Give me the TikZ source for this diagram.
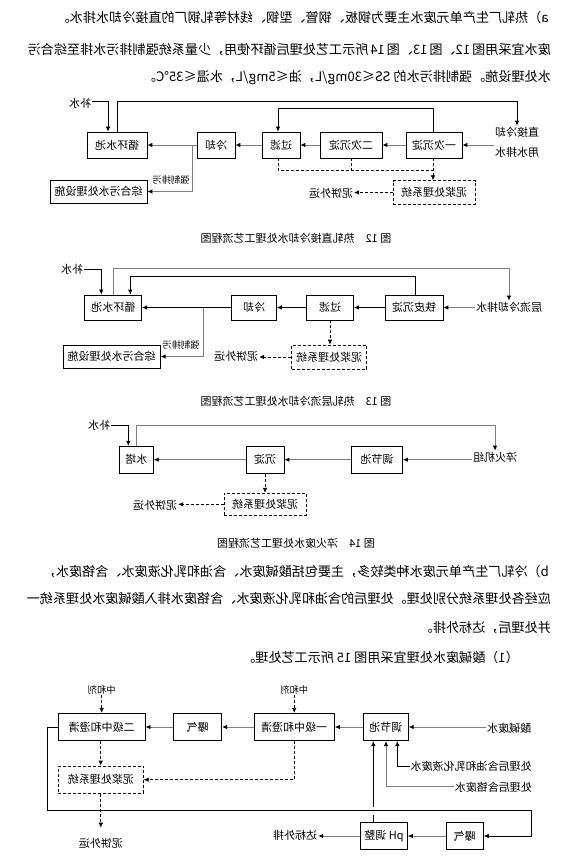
\documentclass[tikz,border=0pt]{standalone}
\usepackage{fontspec}
\setmainfont{Noto Sans CJK SC}
\usepackage{graphicx}
\usetikzlibrary{arrows.meta}

\XeTeXlinebreaklocale "zh"
\XeTeXlinebreakskip=0pt plus 2pt

\newcommand{\mir}[1]{\reflectbox{#1}}
\newcommand{\jmir}[2]{\reflectbox{\makebox[#1][s]{#2}}}

\tikzset{
  box/.style={draw, line width=.8pt, inner sep=1pt, minimum height=26pt,
    font=\fontsize{11}{13}\selectfont},
  dbox/.style={box, dash pattern=on 3pt off 2pt},
  lbl/.style={inner sep=1pt, font=\fontsize{11}{13}\selectfont},
  slbl/.style={inner sep=1pt, font=\fontsize{9.3}{11}\selectfont},
  txt/.style={inner sep=0pt, anchor=east, font=\fontsize{13.1}{15}\selectfont},
  figcap/.style={inner sep=0pt, font=\fontsize{11}{13}\selectfont},
  arr/.style={-{Latex[length=5pt,width=4.5pt,color=black]}},
  gline/.style={draw=gray, line width=.9pt},
  bline/.style={draw=black, line width=.7pt},
  dline/.style={draw=black, line width=.7pt, dash pattern=on 3pt off 2pt},
  flow/.style={gline, arr},
  bflow/.style={bline, arr},
  dflow/.style={dline, arr},
}

\begin{document}
\begin{tikzpicture}[x=1pt, y=-1pt]
  \useasboundingbox (0,0) rectangle (583,858);

  % text above
  \node[txt] (p1) at (549,18) {\jmir{497pt}{a）热轧厂生产单元废水主要为钢板、钢管、型钢、线材等轧钢厂的直接冷却水排水。}};
  \node[txt] (p2) at (551,50) {\jmir{510pt}{废水宜采用图 12、图 13、图 14 所示工艺处理后循环使用，少量系统强制排污水排至综合污}};
  \node[txt] (p3) at (551,78) {\mir{水处理设施。强制排污水的 SS≤30mg/L，油≤5mg/L，水温≤35℃。}};

  % fig 12
  \node[box, minimum width=60pt] (pool12) at (117,145) {\mir{循环水池}};
  \node[box, minimum width=38pt] (cool12) at (216,145) {\mir{冷却}};
  \node[box, minimum width=38pt] (filt12) at (281,145) {\mir{过滤}};
  \node[box, minimum width=62pt] (sec12) at (351,145) {\mir{二次沉淀}};
  \node[box, minimum width=56pt] (pri12) at (434,145) {\mir{一次沉淀}};
  \node[lbl, align=center, font=\fontsize{11}{20}\selectfont] (src12) at (517,142) {\mir{直接冷却}\\\mir{用水排水}};
  \node[box, minimum width=97pt, minimum height=23pt] (sew12) at (98.5,191.5) {\mir{综合污水处理设施}};
  \node[dbox, minimum width=82pt, minimum height=23.5pt] (mud12) at (434,192.5) {\mir{泥浆处理系统}};
  \node[lbl] (cake12) at (331,193) {\mir{泥饼外运}};
  \node[slbl] (fdl12) at (171,180) {\mir{强制排污}};
  \node[lbl] (mk12) at (80,103) {\mir{补水}};
  \coordinate (top12) at (517,101);
  \coordinate (dj12) at (433,170);
  \coordinate (fd12) at (192,145);

  \draw[flow] (src12.west |- pri12) -- (pri12);
  \draw[flow] (pri12) -- (sec12);
  \draw[flow] (sec12) -- (filt12);
  \draw[flow] (filt12) -- (cool12);
  \draw[flow] (cool12) -- (pool12);
  \draw[flow] (fd12) |- (sew12);
  \draw[bflow] (pool12.north) |- (top12) -- (src12.north);
  \draw[bflow] (mk12.east |- top12) -| ([xshift=-9pt]pool12.north);
  \draw[bflow] ([xshift=-1pt]pri12.north) -- ++(0,-23) -| ([xshift=-3pt]filt12.north);
  \draw[dline] ([xshift=-3pt]filt12.south) |- (dj12);
  \draw[dline] (sec12.south) -- (sec12.south |- dj12);
  \draw[dflow] ([xshift=-1pt]pri12.south) -- ([xshift=-1pt]mud12.north);
  \draw[dflow] (mud12.west) -- (mud12.west -| cake12.east);
  \node[figcap] (cap12) at (296,238) {\mir{图~12\quad 热轧直接冷却水处理工艺流程图}};

  % fig 13
  \node[box, minimum width=57pt, minimum height=25pt] (pool13) at (113.3,307.5) {\mir{循环水池}};
  \node[box, minimum width=45pt, minimum height=25pt] (cool13) at (254,307.5) {\mir{冷却}};
  \node[box, minimum width=47pt, minimum height=25pt] (filt13) at (330,307.5) {\mir{过滤}};
  \node[box, minimum width=58pt, minimum height=25pt] (iron13) at (414,307.5) {\mir{铁皮沉淀}};
  \node[lbl] (src13) at (509,307) {\mir{层流冷却排水}};
  \node[box, minimum width=97pt, minimum height=23pt] (sew13) at (111.7,356.5) {\mir{综合污水处理设施}};
  \node[dbox, minimum width=75pt, minimum height=24pt] (mud13) at (329,357) {\mir{泥浆处理系统}};
  \node[lbl] (cake13) at (236,356) {\mir{泥饼外运}};
  \node[slbl] (fdl13) at (181,345) {\mir{强制排污}};
  \node[lbl] (mk13) at (72,269) {\mir{补水}};
  \coordinate (top13) at (509,268);
  \coordinate (fd13) at (203,307.5);

  \draw[flow] (src13.west |- iron13) -- (iron13);
  \draw[bflow] (iron13) -- (filt13);
  \draw[bflow] (filt13) -- (cool13);
  \draw[bflow] (cool13) -- (pool13);
  \draw[flow] (fd13) |- (sew13);
  \draw[flow] (pool13.north) |- (top13) -- (src13.north);
  \draw[bflow] (mk13.east) -| ([xshift=-12pt]pool13.north);
  \draw[bflow] ([xshift=1pt]iron13.north) -- ++(0,-18) -| ([xshift=17pt]pool13.north);
  \draw[dflow] (filt13.south) -- (filt13.south |- mud13.north);
  \draw[dflow] (mud13.west) -- (mud13.west -| cake13.east);
  \node[figcap] (cap13) at (296,401) {\mir{图~13\quad 热轧层流冷却水处理工艺流程图}};

  % fig 14
  \node[box, minimum width=34pt, minimum height=27pt] (tower14) at (136.3,459.7) {\mir{水塔}};
  \node[box, minimum width=38pt, minimum height=27pt] (settle14) at (265,459.7) {\mir{沉淀}};
  \node[box, minimum width=51pt, minimum height=27pt] (adj14) at (377,459.7) {\mir{调节池}};
  \node[lbl] (src14) at (495,457) {\mir{淬火机组}};
  \node[dbox, minimum width=82pt, minimum height=22pt] (mud14) at (265,504.3) {\mir{泥浆处理系统}};
  \node[lbl] (cake14) at (155,505) {\mir{泥饼外运}};
  \node[lbl] (mk14) at (99,425) {\mir{补水}};
  \coordinate (top14) at (495,425);

  \draw[flow] (src14.west |- adj14) -- (adj14);
  \draw[flow] (adj14) -- (settle14);
  \draw[flow] (settle14) -- (tower14);
  \draw[flow] (tower14.north) |- (top14) -- (src14.north);
  \draw[bflow] (mk14.east) -| ([xshift=-8pt]tower14.north);
  \draw[dflow] (settle14.south) -- (mud14.north);
  \draw[dflow] (mud14.west) -- (mud14.west -| cake14.east);
  \node[figcap] (cap14) at (296,543) {\mir{图~14\quad 淬火废水处理工艺流程图}};

  % text between
  \node[txt] (q1) at (549,572) {\jmir{508pt}{b）冷轧厂生产单元废水种类较多，主要包括酸碱废水、含油和乳化液废水、含铬废水，}};
  \node[txt] (q2) at (551,598) {\jmir{510pt}{应经各处理系统分别处理。处理后的含油和乳化液废水、含铬废水排入酸碱废水处理系统一}};
  \node[txt] (q3) at (551,628) {\mir{并处理后，达标外排。}};
  \node[txt] (q4) at (519,658) {\mir{（1）酸碱废水处理宜采用图 15 所示工艺处理。}};

  % fig 15
  \node[box, minimum width=86.7pt, minimum height=27.4pt] (neu2) at (101.7,727) {\mir{二级中和澄清}};
  \node[box, minimum width=48.4pt, minimum height=27.4pt] (aer1) at (197.5,727) {\mir{曝气}};
  \node[box, minimum width=80.3pt, minimum height=27.4pt] (neu1) at (294.2,727) {\mir{一级中和澄清}};
  \node[box, minimum width=45pt, minimum height=27.4pt] (adj15) at (385.8,727) {\mir{调节池}};
  \node[lbl] (src15) at (509,728) {\mir{酸碱废水}};
  \node[slbl] (ag1) at (101.7,690) {\mir{中和剂}};
  \node[slbl] (ag2) at (294.2,690) {\mir{中和剂}};
  \node[dbox, minimum width=85pt, minimum height=27.3pt] (mud15) at (100.8,779.7) {\mir{泥浆处理系统}};
  \node[lbl] (cake15) at (100.8,843) {\mir{泥饼外运}};
  \node[box, minimum width=37.3pt, minimum height=26.6pt] (aer2) at (464.7,836) {\mir{曝气}};
  \node[box, minimum width=46.7pt, minimum height=26.6pt] (ph15) at (384,836) {\mir{pH 调整}};
  \node[lbl] (out15) at (295,835) {\mir{达标外排}};
  \node[lbl] (oil15) at (471.2,766) {\mir{处理后含油和乳化液废水}};
  \node[lbl] (cr15) at (493.3,787) {\mir{处理后含铬废水}};
  \coordinate (lpA) at (47.3,810);
  \coordinate (lpB) at (531.7,810);

  \draw[flow] (src15.west |- adj15) -- (adj15);
  \draw[flow] (adj15) -- (neu1);
  \draw[flow] (neu1) -- (aer1);
  \draw[flow] (aer1) -- (neu2);
  \draw[dflow] (ag1.south) -- (ag1.south |- neu2.north);
  \draw[dflow] (ag2.south) -- (ag2.south |- neu1.north);
  \draw[dflow] ([xshift=-1pt]neu2.south) -- ([xshift=-1pt]neu2.south |- mud15.north);
  \draw[dflow] (neu1.south) |- (mud15.east);
  \draw[dflow, shorten >=9pt] (mud15.south) -- (mud15.south |- cake15.north);
  \draw[bflow] (neu2.west) -| (lpA) -- (lpB) |- (aer2.east);
  \draw[flow] (aer2) -- (ph15);
  \draw[flow] (ph15.west) -- (ph15.west -| out15.east);
  \draw[bline] ([xshift=-10.7pt]ph15.north) -- ++(0,-7.7);
  \draw[bflow] ([xshift=-10.7pt]ph15.north) ++(0,-15.4) -- ([xshift=-12.5pt]adj15.south);
  \draw[bflow] (oil15.west) -| ([xshift=11.5pt]adj15.south);
  \draw[flow] ([yshift=1pt]cr15.west) -| ([xshift=0.2pt]adj15.south);
\end{tikzpicture}
\end{document}
